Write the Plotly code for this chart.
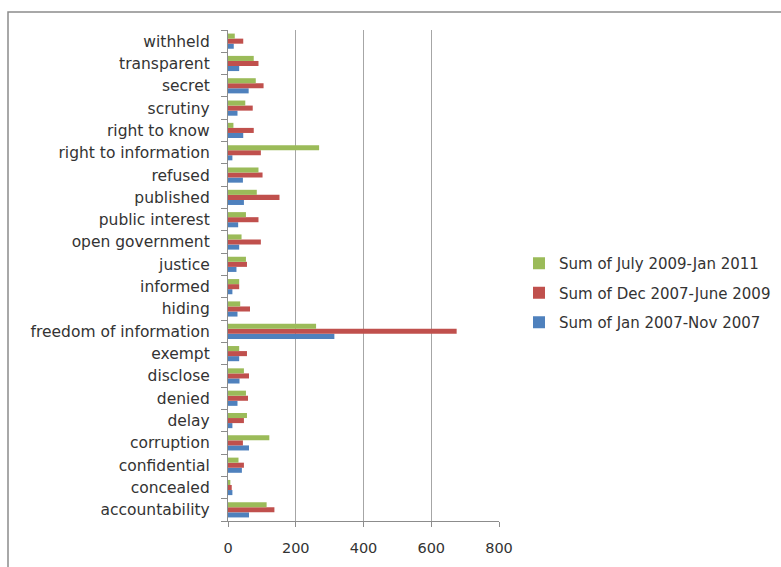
import plotly.graph_objects as go

categories = ["accountability", "concealed", "confidential", "corruption", "delay",
              "denied", "disclose", "exempt", "freedom of information", "hiding",
              "informed", "justice", "open government", "public interest", "published",
              "refused", "right to information", "right to know", "scrutiny", "secret",
              "transparent", "withheld"]

jan2007_nov2007 = [62, 13, 41, 62, 13, 28, 34, 33, 314, 28, 13, 25, 33, 30, 47,
                   44, 13, 45, 28, 61, 33, 17]
dec2007_jun2009 = [137, 11, 47, 44, 47, 59, 62, 56, 675, 65, 33, 56, 97, 90, 152,
                   102, 97, 76, 73, 105, 90, 45]
jul2009_jan2011 = [114, 7, 31, 122, 56, 53, 47, 33, 260, 36, 33, 53, 40, 53, 85,
                   90, 269, 16, 51, 82, 76, 20]

series_names = ["Sum of Jan 2007-Nov 2007", "Sum of Dec 2007-June 2009",
                "Sum of July 2009-Jan 2011"]
series_values = [jan2007_nov2007, dec2007_jun2009, jul2009_jan2011]
series_colors = ["#4F81BD", "#C0504D", "#9BBB59"]
legend_ranks = [3, 2, 1]

x_ticks = [0, 200, 400, 600, 800]

W, H = 781, 567
L, R, T, B = 228, 499, 30, 521

fig = go.Figure()
for i, (name, vals, col) in enumerate(zip(series_names, series_values, series_colors)):
    fig.add_trace(go.Bar(y=categories, x=vals, name=name, orientation="h",
                         legendgroup="g%d" % i, legendrank=legend_ranks[i],
                         marker=dict(color=col, line=dict(width=0))))

font_family = "'DejaVu Sans', Verdana, sans-serif"
fig.update_layout(
    width=W, height=H,
    margin=dict(l=L, r=W - R, t=T, b=H - B, pad=0, autoexpand=False),
    paper_bgcolor="white", plot_bgcolor="white",
    barmode="group", bargap=0.32, bargroupgap=0,
    font=dict(family=font_family, size=14, color="#333333"),
    showlegend=True,
    legend=dict(traceorder="grouped", x=(519 - L) / (R - L), xanchor="left",
                y=1 - (247 - T) / (B - T), yanchor="top",
                font=dict(size=15, color="#333333"), itemwidth=30,
                tracegroupgap=7, bgcolor="rgba(0,0,0,0)"),
    xaxis=dict(range=[0, 800], tickvals=x_ticks, showgrid=True,
               gridcolor="#a6a6a6", gridwidth=1.3, zeroline=False,
               showline=True, linecolor="#8c8c8c", linewidth=1.3,
               ticks="outside", ticklen=5, tickcolor="#8c8c8c",
               ticklabelstandoff=8, automargin=False,
               tickfont=dict(size=14.5), fixedrange=True),
    yaxis=dict(type="category", categoryorder="array", categoryarray=categories,
               showgrid=False, zeroline=False, showline=True,
               linecolor="#8c8c8c", linewidth=1.3, ticks="outside",
               tickson="boundaries", ticklen=6, tickcolor="#8c8c8c",
               ticklabelstandoff=14, automargin=False,
               tickfont=dict(size=15.5), fixedrange=True),
    shapes=[dict(type="rect", xref="paper", yref="paper",
                 x0=(8 - L) / (R - L), x1=(800 - L) / (R - L),
                 y0=1 - (600 - T) / (B - T), y1=1 - (12 - T) / (B - T),
                 line=dict(color="#8c8c8c", width=1.5), fillcolor="rgba(0,0,0,0)",
                 layer="below")],
)

fig.write_html("out.html")
